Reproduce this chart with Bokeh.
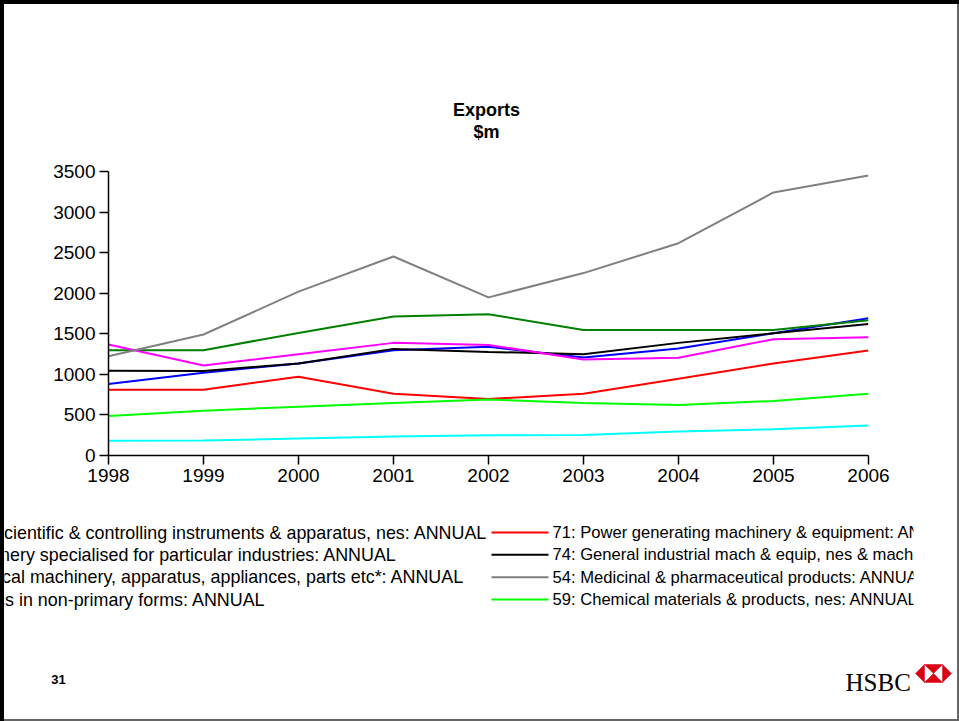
from bokeh.plotting import figure
from bokeh.models import Range1d, FixedTicker
from bokeh.layouts import column
from bokeh.embed import file_html
from bokeh.resources import INLINE
from bokeh.core.properties import value

# ---------------- data ----------------
years = [1998, 1999, 2000, 2001, 2002, 2003, 2004, 2005, 2006]
year_labels = ["1998", "1999", "2000", "2001", "2002", "2003", "2004", "2005", "2006"]
y_ticks = [0, 500, 1000, 1500, 2000, 2500, 3000, 3500]
y_tick_labels = ["0", "500", "1000", "1500", "2000", "2500", "3000", "3500"]

s87 = [880, 1019, 1135, 1298, 1339, 1208, 1319, 1507, 1691]     # blue
s71 = [811, 811, 970, 761, 696, 761, 946, 1135, 1294]            # red
s72 = [1298, 1298, 1511, 1712, 1740, 1547, 1547, 1547, 1667]     # dark green
s74 = [1044, 1040, 1135, 1314, 1277, 1249, 1388, 1507, 1621]     # black
s77 = [1368, 1110, 1249, 1388, 1363, 1184, 1204, 1433, 1458]     # magenta
s54 = [1224, 1491, 2019, 2452, 1949, 2248, 2616, 3242, 3451]     # gray
s58 = [181, 184, 209, 234, 250, 254, 295, 324, 369]              # cyan
s59 = [488, 553, 602, 647, 690, 647, 623, 672, 761]              # bright green

series = [s87, s71, s72, s74, s77, s54, s58, s59]
series_colors = ["#0000FF", "#FF0000", "#008000", "#000000",
                 "#FF00FF", "#808080", "#00FFFF", "#00FF00"]

# legend, two columns (left column runs off the slide edge)
left_labels = [
    "87: Prof. scientific & controlling instruments & apparatus, nes: ANNUAL",
    "72: Machinery specialised for particular industries: ANNUAL",
    "77: Electrical machinery, apparatus, appliances, parts etc*: ANNUAL",
    "58: Plastics in non-primary forms: ANNUAL",
]
left_colors = ["#0000FF", "#008000", "#FF00FF", "#00FFFF"]
right_labels = [
    "71: Power generating machinery & equipment: ANNUAL",
    "74: General industrial mach & equip, nes & mach parts, nes: ANNUAL",
    "54: Medicinal & pharmaceutical products: ANNUAL",
    "59: Chemical materials & products, nes: ANNUAL",
]
right_colors = ["#FF0000", "#000000", "#808080", "#00FF00"]

title_lines = ["Exports", "$m"]
page_number = "31"
brand = "HSBC"

FONT = "Liberation Sans"
W = 959


def blank_fig(height, x0, x1, y0, y1, **kw):
    f = figure(width=W, height=height,
               x_range=Range1d(x0, x1), y_range=Range1d(y1, y0),
               output_backend="svg", toolbar_location=None,
               x_axis_location=None, y_axis_location=None,
               background_fill_color=None, border_fill_color=None,
               frame_align=False, **kw)
    f.outline_line_color = None
    f.grid.visible = False
    return f


# ---------------- title block (page y 0..150) ----------------
tf = blank_fig(150, 0, W, 0, 150,
               min_border_left=0, min_border_right=0,
               min_border_top=0, min_border_bottom=0)
tf.text(x=[486, 486], y=[109, 131], text=title_lines,
        text_font=value(FONT), text_font_size="18px", text_font_style="bold",
        text_align="center", text_baseline="alphabetic", text_color="black")

# ---------------- chart (page y 150..505) ----------------
p = figure(width=W, height=355,
           x_range=Range1d(1998, 2006), y_range=Range1d(0, 3500),
           output_backend="svg", toolbar_location=None,
           min_border_left=108, min_border_right=W - 868,
           min_border_top=21, min_border_bottom=50,
           background_fill_color=None, border_fill_color=None,
           frame_align=False)
p.outline_line_color = None
p.xgrid.visible = False
p.ygrid.visible = False

for ys, c in zip(series, series_colors):
    p.line(years, ys, line_color=c, line_width=2)

p.xaxis.ticker = FixedTicker(ticks=years)
p.xaxis.major_label_overrides = {yr: lab for yr, lab in zip(years, year_labels)}
p.yaxis.ticker = FixedTicker(ticks=y_ticks)
p.yaxis.major_label_overrides = {t: lab for t, lab in zip(y_ticks, y_tick_labels)}
for ax in (p.xaxis[0], p.yaxis[0]):
    ax.axis_line_color = "black"
    ax.axis_line_width = 1.5
    ax.major_tick_line_color = "black"
    ax.major_tick_line_width = 1.5
    ax.major_tick_out = 9
    ax.major_tick_in = 0
    ax.minor_tick_line_color = None
    ax.major_label_text_font = FONT
    ax.major_label_text_font_size = "19px"
    ax.major_label_text_color = "black"
p.yaxis.major_label_standoff = 4
p.xaxis.major_label_standoff = 4

# ---------------- legend block (page y 505..620) ----------------
row_y = [532, 554.3, 576.7, 599]
lg = blank_fig(115, 4, 913, 505, 620,
               min_border_left=4, min_border_right=W - 913,
               min_border_top=0, min_border_bottom=0)
lg.segment(x0=[-141] * 4, y0=row_y, x1=[-84] * 4, y1=row_y,
           line_color=left_colors, line_width=2)
lg.text(x=[-78] * 4, y=row_y, text=left_labels,
        text_font=value(FONT), text_font_size="17.9px",
        text_baseline="middle", text_align="left", text_color="black")
lg.segment(x0=[491] * 4, y0=row_y, x1=[548] * 4, y1=row_y,
           line_color=right_colors, line_width=2)
lg.text(x=[552] * 4, y=row_y, text=right_labels,
        text_font=value(FONT), text_font_size="16.6px",
        text_baseline="middle", text_align="left", text_color="black")

# ---------------- footer (page y 620..721) ----------------
ft = blank_fig(101, 0, W, 620, 721,
               min_border_left=0, min_border_right=0,
               min_border_top=0, min_border_bottom=0)
ft.text(x=[58], y=[679], text=[page_number], text_font=value(FONT),
        text_font_size="13px", text_font_style="bold",
        text_align="center", text_baseline="middle", text_color="black")
ft.text(x=[845], y=[682], text=[brand], text_font=value("Liberation Serif"),
        text_font_size="25px", text_align="left",
        text_baseline="alphabetic", text_color="black")

# HSBC hexagon mark
hx0, hx1, hx2, hx3 = 915, 924, 942, 951
hy0, hym, hy1 = 664, 673, 682
hxm = (hx1 + hx2) / 2
ft.patches(
    xs=[[hx0, hx1, hx1], [hx3, hx2, hx2], [hx1, hx2, hxm], [hx1, hx2, hxm]],
    ys=[[hym, hy0, hy1], [hym, hy0, hy1], [hy0, hy0, hym], [hy1, hy1, hym]],
    fill_color="#DB0011", line_color="#DB0011", line_width=0.5)

layout = column(tf, p, lg, ft, spacing=0,
                styles={"background-color": "white",
                        "box-shadow": "inset 4px 4px 0 0 #000000, inset -2px -2px 0 0 #666666"})

open("out.html", "w").write(file_html(layout, INLINE))
